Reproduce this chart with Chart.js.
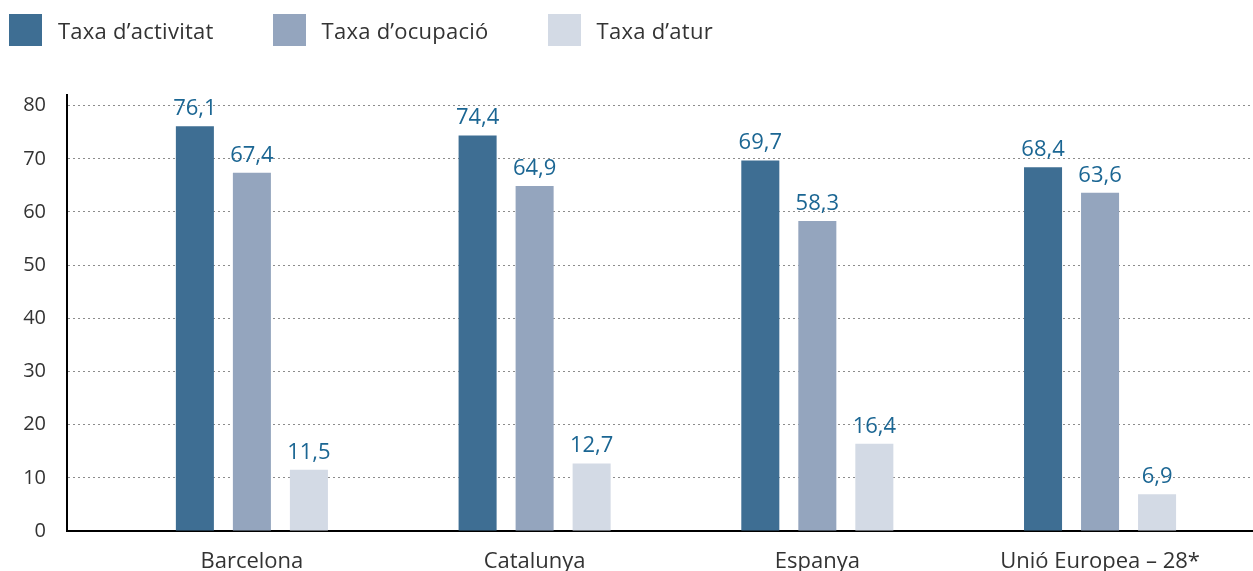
<!DOCTYPE html>
<html>
<head>
<meta charset="utf-8">
<script src="https://cdn.jsdelivr.net/npm/chart.js@4/dist/chart.umd.min.js"></script>
<style>
  html, body { margin: 0; padding: 0; background: #fff; }
  #wrap { position: relative; width: 1253px; height: 571px; overflow: hidden; }
  #chart { position: absolute; left: 0; top: 0; }
  #legend { position: absolute; left: 9px; top: 14px; display: flex; align-items: center;
            font-family: "Open Sans", Roboto, sans-serif; font-size: 22px; letter-spacing: 0.25px; color: #333; }
  .item { display: flex; align-items: center; margin-right: 59px; height: 32px; }
  .box { width: 33px; height: 32px; margin-right: 16px; }
</style>
</head>
<body>
<div id="wrap">
  <canvas id="chart" width="1253" height="571"></canvas>
  <div id="legend"></div>
</div>
<script>
const categories = ["Barcelona", "Catalunya", "Espanya", "Unió Europea – 28*"];
const seriesNames = ["Taxa d’activitat", "Taxa d’ocupació", "Taxa d’atur"];
const activitat = [76.1, 74.4, 69.7, 68.4];
const ocupacio = [67.4, 64.9, 58.3, 63.6];
const atur = [11.5, 12.7, 16.4, 6.9];
const yTicks = [0, 10, 20, 30, 40, 50, 60, 70, 80];
const colors = ["#3e6e93", "#94a5be", "#d3dae5"];

const seriesValues = [activitat, ocupacio, atur];

// HTML legend built from the arrays
const legendEl = document.getElementById('legend');
seriesNames.forEach((name, i) => {
  const item = document.createElement('div');
  item.className = 'item';
  const box = document.createElement('div');
  box.className = 'box';
  box.style.background = colors[i];
  const txt = document.createElement('span');
  txt.textContent = name;
  item.appendChild(box);
  item.appendChild(txt);
  legendEl.appendChild(item);
});

const fontFamily = '"Open Sans", Roboto, sans-serif';

const valueLabels = {
  id: 'valueLabels',
  afterDatasetsDraw(chart) {
    const ctx = chart.ctx;
    ctx.save();
    ctx.font = '22px ' + fontFamily;
    ctx.fillStyle = '#1b6693';
    ctx.textAlign = 'center';
    ctx.textBaseline = 'alphabetic';
    chart.data.datasets.forEach((ds, di) => {
      const meta = chart.getDatasetMeta(di);
      meta.data.forEach((el, i) => {
        const v = ds.data[i].y;
        ctx.fillText(v.toFixed(1).replace('.', ','), el.x, el.y - 11);
      });
    });
    ctx.restore();
  }
};

new Chart(document.getElementById('chart'), {
  type: 'bar',
  data: {
    datasets: seriesNames.map((name, di) => ({
      label: name,
      data: seriesValues[di].map((v, i) => ({ x: i, y: v })),
      backgroundColor: colors[di],
      borderWidth: 0,
      categoryPercentage: 0.605,
      barPercentage: 0.667
    }))
  },
  options: {
    responsive: false,
    animation: false,
    devicePixelRatio: 1,
    layout: { padding: { top: 95, right: 0, left: 0, bottom: 0 } },
    plugins: { legend: { display: false }, tooltip: { enabled: false } },
    scales: {
      x: {
        type: 'linear',
        offset: false,
        min: -0.654,
        max: 3.541,
        afterBuildTicks: (scale) => { scale.ticks = categories.map((c, i) => ({ value: i })); },
        afterFit: (scale) => { scale.height = 40; },
        grid: { display: false, drawTicks: false },
        border: { display: true, color: '#000', width: 2 },
        ticks: {
          autoSkip: false, maxRotation: 0, padding: 18,
          color: '#333',
          font: { family: fontFamily, size: 22 },
          callback: (v) => categories[v]
        }
      },
      y: {
        min: 0,
        max: 82,
        afterBuildTicks: (scale) => { scale.ticks = yTicks.map(v => ({ value: v })); },
        afterFit: (scale) => { scale.width = 67; },
        grid: { color: '#8c8c8c', lineWidth: 1, drawTicks: false },
        border: { display: true, color: '#000', width: 2, dash: [2, 3] },
        ticks: {
          padding: 21,
          color: '#333',
          font: { family: fontFamily, size: 20 }
        }
      }
    }
  },
  plugins: [valueLabels]
});
</script>
</body>
</html>
